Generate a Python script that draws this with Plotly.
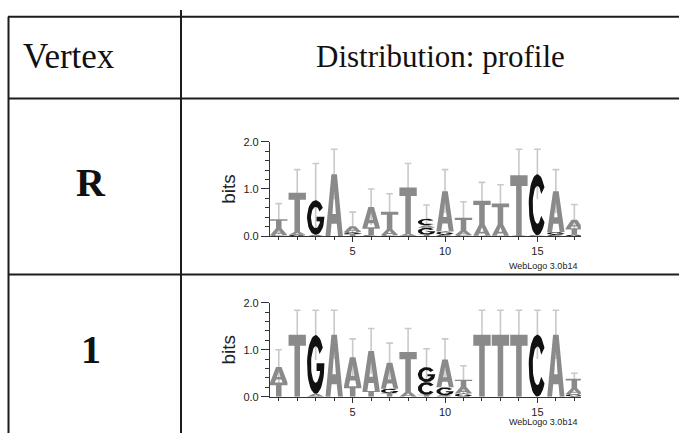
import numpy as np
import plotly.graph_objects as go

# ---------------- data ----------------
positions = list(range(1, 18))
x_tick_vals = [5, 10, 15]
y_tick_vals = [0, 1, 2]
y_tick_text = ["0.0", "1.0", "2.0"]

header_vertex = "Vertex"
header_profile = "Distribution: profile"
row_labels = ["R", "1"]

# stacks listed bottom -> top
R_letters = ["GAT", "GAT", "AG", "A", "TGA", "CTA", "GAT", "GAT", "TGAC",
             "CGA", "GAT", "GAT", "CAT", "AT", "GC", "CGA", "GTA"]
R_bits = [[0.02, 0.15, 0.19], [0.03, 0.06, 0.83], [0.03, 0.73], [1.31],
          [0.04, 0.05, 0.12], [0.02, 0.17, 0.43], [0.02, 0.13, 0.37],
          [0.01, 0.04, 0.98], [0.03, 0.15, 0.05, 0.14], [0.03, 0.07, 0.85],
          [0.02, 0.10, 0.27], [0.01, 0.24, 0.50], [0.01, 0.24, 0.44],
          [0.02, 1.27], [0.02, 1.29], [0.03, 0.06, 0.86], [0.03, 0.14, 0.18]]
R_errtop = [0.69, 1.41, 1.54, 1.84, 0.51, 1.00, 0.90, 1.54, 0.66, 1.41,
            0.73, 1.14, 1.09, 1.84, 1.84, 1.41, 0.67]

V1_letters = ["TA", "T", "AG", "A", "TA", "TA", "TGA", "AT", "TCG", "CGA",
              "GAT", "T", "T", "T", "C", "A", "GAT"]
V1_bits = [[0.30, 0.33], [1.32], [0.06, 1.25], [1.32], [0.22, 0.62],
           [0.12, 0.85], [0.07, 0.10, 0.55], [0.10, 0.85], [0.04, 0.27, 0.32],
           [0.03, 0.17, 0.59], [0.07, 0.14, 0.15], [1.32], [1.32], [1.32],
           [1.32], [1.32], [0.06, 0.12, 0.20]]
V1_errtop = [1.00, 1.84, 1.84, 1.84, 1.23, 1.45, 1.14, 1.45, 1.02, 1.23,
             0.66, 1.84, 1.84, 1.84, 1.84, 1.84, 0.50]

# ---------------- glyph outlines (unit box) ----------------
def _arc(cx, cy, rx, ry, a0, a1, n=36):
    t = np.radians(np.linspace(a0, a1, n))
    return list(zip(cx + rx * np.cos(t), cy + ry * np.sin(t)))

GLYPHS = {
    "T": [(0, 1), (1, 1), (1, 0.82), (0.66, 0.82), (0.66, 0), (0.34, 0),
          (0.34, 0.82), (0, 0.82)],
    "A": [(0, 0), (0.28, 0), (0.35, 0.2), (0.65, 0.2), (0.72, 0), (1, 0),
          (0.66, 1), (0.5, 1), (0.5, 0.74), (0.6, 0.36), (0.4, 0.36),
          (0.5, 0.74), (0.5, 1), (0.34, 1)],
    "C": _arc(0.5, 0.5, 0.5, 0.5, 35, 325) + _arc(0.5, 0.5, 0.27, 0.31, 325, 35),
    "G": _arc(0.5, 0.5, 0.5, 0.5, 35, 360) +
         [(1.0, 0.52), (0.55, 0.52), (0.55, 0.39), (0.75, 0.39)] +
         _arc(0.5, 0.5, 0.27, 0.31, 338, 35),
}
COLORS = {"A": "#8a8a8a", "T": "#8a8a8a", "C": "#111111", "G": "#111111"}
LW = 0.94

fig = go.Figure()


def add_logo(letters, bits, errtop, xa, ya):
    # error bars (behind letters)
    ex, ey = [], []
    for p, b, et in zip(positions, bits, errtop):
        tot = sum(b)
        err = et - tot
        ex += [p, p, None, p - 0.18, p + 0.18, None]
        ey += [max(0, tot - err), et, None, et, et, None]
    fig.add_trace(go.Scatter(x=ex, y=ey, mode="lines", xaxis=xa, yaxis=ya,
                             line=dict(color="#c9c9c9", width=1.6),
                             hoverinfo="skip", showlegend=False))
    groups = {}
    for p, lets, b in zip(positions, letters, bits):
        y0 = 0.0
        for L, h in zip(lets, b):
            col = COLORS[L]
            gx, gy = groups.setdefault(col, ([], []))
            for u, v in GLYPHS[L]:
                gx.append(p - LW / 2 + u * LW)
                gy.append(y0 + v * h)
            gx.append(None)
            gy.append(None)
            y0 += h
    for col, (gx, gy) in groups.items():
        fig.add_trace(go.Scatter(x=gx, y=gy, mode="lines", fill="toself",
                                 fillcolor=col, line=dict(width=0, color=col),
                                 xaxis=xa, yaxis=ya, hoverinfo="skip",
                                 showlegend=False))


add_logo(R_letters, R_bits, R_errtop, "x", "y")
add_logo(V1_letters, V1_bits, V1_errtop, "x2", "y2")

H, W = 439, 679
xdom = [269.9 / W, 580.8 / W]
xrange_ = [0.52, 17.35]
tickfont = dict(family="Liberation Sans, Arial", size=11, color="#222")
common_x = dict(range=xrange_, domain=xdom, showline=True, linecolor="#333",
                linewidth=1, ticks="outside", ticklen=5, tickcolor="#333",
                tickvals=x_tick_vals, tickfont=tickfont, showgrid=False,
                zeroline=False, fixedrange=True,
                minor=dict(dtick=1, tick0=0, ticklen=3, ticks="outside",
                           tickcolor="#333", showgrid=False))
common_y = dict(range=[0, 2], showline=True, linecolor="#333", linewidth=1,
                ticks="outside", ticklen=8, tickcolor="#333",
                tickvals=y_tick_vals, ticktext=y_tick_text, tickfont=tickfont,
                showgrid=False, zeroline=False, fixedrange=True,
                title=dict(text="bits", standoff=2,
                           font=dict(family="Liberation Sans, Arial", size=19,
                                     color="#222")),
                minor=dict(dtick=0.2, tick0=0, ticklen=4, ticks="outside",
                           tickcolor="#333", showgrid=False))

fig.update_layout(
    width=W, height=H, margin=dict(l=0, r=0, t=0, b=0),
    paper_bgcolor="white", plot_bgcolor="rgba(0,0,0,0)",
    xaxis=dict(anchor="y", **common_x),
    yaxis=dict(anchor="x", domain=[1 - 236.7 / H, 1 - 139.5 / H], **common_y),
    xaxis2=dict(anchor="y2", **common_x),
    yaxis2=dict(anchor="x2", domain=[1 - 401.7 / H, 1 - 305 / H], **common_y),
)

# table lines
line_style = dict(color="#1c1c1c", width=2)
shapes = [
    dict(x0=8 / W, x1=1, y0=1 - 11 / H, y1=1 - 11 / H),
    dict(x0=8 / W, x1=1, y0=1 - 95 / H, y1=1 - 95 / H),
    dict(x0=8 / W, x1=1, y0=1 - 276 / H, y1=1 - 276 / H),
    dict(x0=8.5 / W, x1=8.5 / W, y0=0, y1=1 - 11 / H),
    dict(x0=181 / W, x1=181 / W, y0=0, y1=1 - 4 / H),
]
for s in shapes:
    fig.add_shape(type="line", xref="paper", yref="paper", line=line_style, **s)

serif = "Liberation Serif, Times New Roman, serif"
ann = [
    dict(text=header_vertex, x=21 / W, y=1 - 52 / H, xanchor="left",
         font=dict(family=serif, size=35, color="#111")),
    dict(text=header_profile, x=440 / W, y=1 - 52 / H, xanchor="center",
         font=dict(family=serif, size=31, color="#111")),
    dict(text="<b>%s</b>" % row_labels[0], x=91 / W, y=1 - 181 / H,
         xanchor="center", font=dict(family=serif, size=40, color="#111")),
    dict(text="<b>%s</b>" % row_labels[1], x=91 / W, y=1 - 353 / H,
         xanchor="center", font=dict(family=serif, size=40, color="#111")),
    dict(text="WebLogo 3.0b14", x=579 / W, y=1 - 267 / H, xanchor="right",
         font=dict(family="Liberation Sans, Arial", size=9, color="#222")),
    dict(text="WebLogo 3.0b14", x=579 / W, y=1 - 428 / H, xanchor="right",
         font=dict(family="Liberation Sans, Arial", size=9, color="#222")),
]
for a in ann:
    fig.add_annotation(xref="paper", yref="paper", showarrow=False,
                       yanchor="middle", **a)

fig.write_html("out.html")
